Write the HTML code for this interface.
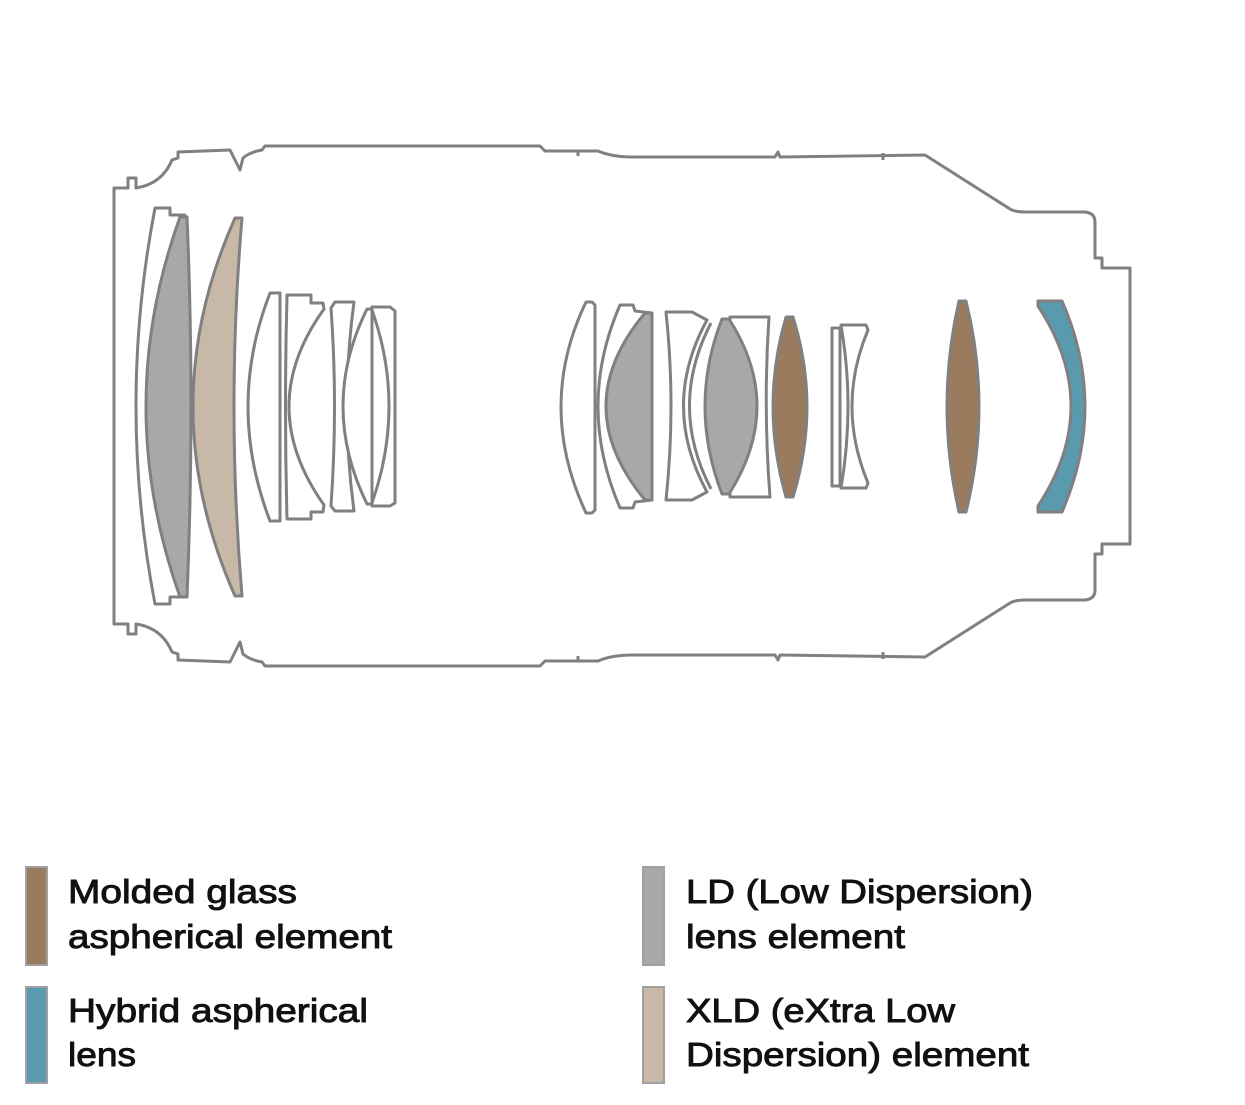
<!DOCTYPE html>
<html><head><meta charset="utf-8"><style>
html,body{margin:0;padding:0;background:#fff;}
svg{display:block;}
text{font-family:"Liberation Sans",Arial,sans-serif;font-size:33px;fill:#111;stroke:#111;stroke-width:0.9px;}
</style></head><body>
<svg width="1245" height="1105" viewBox="0 0 1245 1105" xmlns="http://www.w3.org/2000/svg">
<g fill="none" stroke="#808080" stroke-width="3" stroke-linejoin="round">
  <g id="top">
    <path d="M114,406 L114,188 L128,188 L128,178 L136,178 L136,188 Q162,184 172,160 L178,158 L178,152 L230,150 L240,170 L243,158 Q250,152 262,150 L265,146 L540,146 L545,151 L598,151 Q612,157 632,157 L775,157 L778,152 L780,157 L925,155 L1010,209 Q1015,212 1025,212 L1085,212 Q1095,213 1095,222 L1095,258 L1102,258 L1102,268 L1130,268 L1130,406"/>
    <path d="M578,151 L578,156 M883,153 L883,160" />
  </g>
  <use href="#top" transform="translate(0,812) scale(1,-1)"/>
</g>
<g stroke="#808080" stroke-width="3" stroke-linejoin="round">
  <path fill="#fff" d="M155,208 L170,208 L170,215 L185,215 L185,597 L170,597 L170,604 L155,604 Q117,406 155,208 Z"/>
  <path fill="#a8a8a8" d="M180,217 L187,217 Q195,406 187,597 L180,597 Q112,406 180,217 Z"/>
  <path fill="#c8b8a8" d="M235,218 L242,218 Q226,406 242,596 L235,596 Q151,406 235,218 Z"/>
  <path fill="#fff" d="M270,293 L280,293 L280,521 L270,521 Q226,406 270,293 Z"/>
  <path fill="#fff" d="M287,295 L311,295 L311,303 L323,303 L324,309 Q254,406 324,505 L323,512 L311,512 L311,519 L287,519 Q284,406 287,295 Z"/>
  <path fill="#fff" d="M335,302 L354,302 Q340,406 354,511 L335,511 L331,506 Q338,406 331,308 Z"/>
  <path fill="#fff" d="M372,307 L390,307 L395,311 L395,503 L390,506 L372,506 Z"/>
  <path fill="none" d="M372,310 Q406,406 372,503"/>
  <path fill="#fff" d="M367,309 L372,309 L372,504 L367,504 Q319,406 367,309 Z"/>
  <path fill="#fff" d="M586,302 L592,302 L595,305 L595,510 L592,513 L586,513 Q536,406 586,302 Z"/>
  <path fill="#fff" d="M620,305 L633,305 L635,311 L652,313 L652,500 L635,502 L633,508 L620,508 Q576,406 620,305 Z"/>
  <path fill="#a8a8a8" d="M645,313 L652,313 L652,500 L645,500 Q567,406 645,313 Z"/>
  <path fill="#fff" d="M666,312 L692,312 L707,320 Q660,406 707,492 L692,500 L666,500 Q676,406 666,312 Z"/>
  <path fill="none" d="M711,323 Q668,406 711,489"/>
  <path fill="#fff" d="M730,317 L769,317 Q763,406 770,497 L730,497 Z"/>
  <path fill="#a8a8a8" d="M722,319 L729,319 Q785,406 729,494 L722,494 Q688,406 722,319 Z"/>
  <path fill="#9a7b5e" d="M786,317 L793,317 Q821,406 793,497 L786,497 Q760,406 786,317 Z"/>
  <path fill="#fff" d="M832,328 L840,328 L840,486 L832,486 Z"/>
  <path fill="#fff" d="M841,325 L866,325 L868,330 Q836,406 868,483 L866,488 L841,488 Q855,406 841,325 Z"/>
  <path fill="#9a7b5e" d="M959,301 L966,301 Q992,406 966,512 L959,512 Q935,406 959,301 Z"/>
  <path fill="#5a9aae" d="M1038,301 L1062,301 Q1108,406 1062,512 L1038,512 L1038,506 Q1104,406 1038,306 Z"/>
</g>
<g stroke="#a0a0a0" stroke-width="2">
  <rect x="26" y="867" width="21" height="98" fill="#9a7b5e"/>
  <rect x="26" y="987" width="21" height="96" fill="#5a9aae"/>
  <rect x="643" y="867" width="21" height="98" fill="#a8a8a8"/>
  <rect x="643" y="987" width="21" height="96" fill="#c8b8a8"/>
</g>
<text x="68" y="903" textLength="229" lengthAdjust="spacingAndGlyphs">Molded glass</text>
<text x="68" y="948" textLength="324" lengthAdjust="spacingAndGlyphs">aspherical element</text>
<text x="68" y="1022" textLength="300" lengthAdjust="spacingAndGlyphs">Hybrid aspherical</text>
<text x="68" y="1066" textLength="68" lengthAdjust="spacingAndGlyphs">lens</text>
<text x="686" y="903" textLength="347" lengthAdjust="spacingAndGlyphs">LD (Low Dispersion)</text>
<text x="686" y="948" textLength="219" lengthAdjust="spacingAndGlyphs">lens element</text>
<text x="686" y="1022" textLength="269" lengthAdjust="spacingAndGlyphs">XLD (eXtra Low</text>
<text x="686" y="1066" textLength="343" lengthAdjust="spacingAndGlyphs">Dispersion) element</text>
</svg>
</body></html>
